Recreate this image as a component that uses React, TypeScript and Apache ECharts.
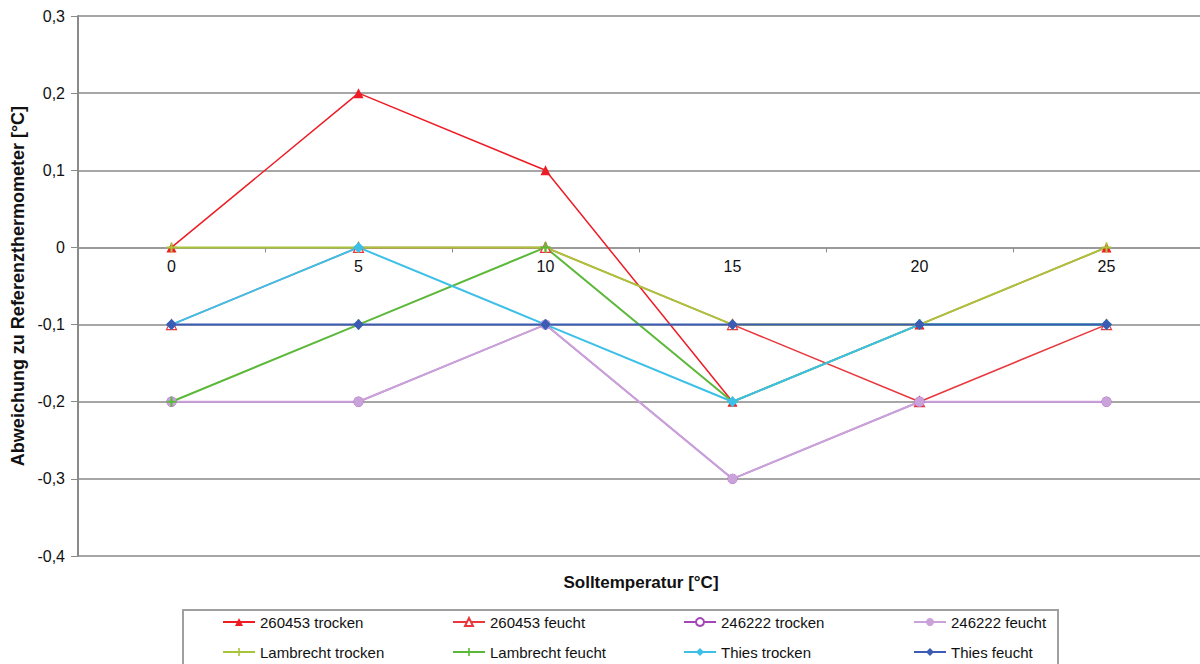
import React, { useEffect, useRef } from "react";
import * as echarts from "echarts";

const categories = ["0", "5", "10", "15", "20", "25"];

const s260453Trocken = [0, 0.2, 0.1, -0.2, -0.1, 0];
const s260453Feucht = [-0.1, 0, 0, -0.1, -0.2, -0.1];
const s246222Trocken = [-0.2, -0.2, -0.1, -0.3, -0.2, -0.2];
const s246222Feucht = [-0.2, -0.2, -0.1, -0.3, -0.2, -0.2];
const sLambrechtTrocken = [0, 0, 0, -0.1, -0.1, 0];
const sLambrechtFeucht = [-0.2, -0.1, 0, -0.2, -0.1, -0.1];
const sThiesTrocken = [-0.1, 0, -0.1, -0.2, -0.1, -0.1];
const sThiesFeucht = [-0.1, -0.1, -0.1, -0.1, -0.1, -0.1];

const yMin = -0.4;
const yMax = 0.3;

const PLUS = "path://M4,0h2v4h4v2h-4v4h-2v-4h-4v-2h4z";

const seriesDefs = [
  { name: "260453 trocken", data: s260453Trocken, color: "#ee1c25", symbol: "triangle", fill: "#ee1c25", size: 10, width: 1.5 },
  { name: "260453 feucht", data: s260453Feucht, color: "#e8383d", symbol: "triangle", fill: "#ffffff", size: 10, width: 1.5 },
  { name: "246222 trocken", data: s246222Trocken, color: "#a347b8", symbol: "circle", fill: "#ffffff", size: 9, width: 1.5 },
  { name: "246222 feucht", data: s246222Feucht, color: "#c9a2d9", symbol: "circle", fill: "#c9a2d9", size: 10, width: 2 },
  { name: "Lambrecht trocken", data: sLambrechtTrocken, color: "#a9c43a", symbol: PLUS, fill: "#a9c43a", size: 10, width: 2 },
  { name: "Lambrecht feucht", data: sLambrechtFeucht, color: "#5cb83a", symbol: PLUS, fill: "#5cb83a", size: 10, width: 2 },
  { name: "Thies trocken", data: sThiesTrocken, color: "#3cc0e8", symbol: "diamond", fill: "#3cc0e8", size: 11, width: 2 },
  { name: "Thies feucht", data: sThiesFeucht, color: "#3c5cb4", symbol: "diamond", fill: "#3c5cb4", size: 11, width: 2 },
];

const legendColumns = [
  { left: 222, names: ["260453 trocken", "Lambrecht trocken"] },
  { left: 452, names: ["260453 feucht", "Lambrecht feucht"] },
  { left: 683, names: ["246222 trocken", "Thies trocken"] },
  { left: 913, names: ["246222 feucht", "Thies feucht"] },
];

const FONT = "'Liberation Sans', Arial, sans-serif";

const GRID_TOP = 16;
const GRID_BOTTOM = 108;
const CHART_H = 664;

export default function App() {
  const ref = useRef<HTMLDivElement>(null);
  useEffect(() => {
    if (!ref.current) return;
    const chart = echarts.init(ref.current, null, { renderer: "svg" });
    const plotH = CHART_H - GRID_TOP - GRID_BOTTOM;
    // move the category axis up to the zero line
    const zeroOffset = -plotH * (0 - yMin) / (yMax - yMin);
    chart.setOption({
      animation: false,
      backgroundColor: "#ffffff",
      grid: { left: 78, right: 0, top: GRID_TOP, bottom: GRID_BOTTOM, containLabel: false },
      xAxis: {
        type: "category",
        data: categories,
        boundaryGap: true,
        offset: zeroOffset,
        axisLine: { onZero: false, lineStyle: { color: "#9a9a9a", width: 2 } },
        axisTick: { show: true, length: 5, lineStyle: { color: "#8a8a8a", width: 1 } },
        axisLabel: { color: "#111", fontSize: 16, fontFamily: FONT, margin: 11 },
        splitLine: { show: false },
      },
      yAxis: {
        type: "value",
        min: yMin,
        max: yMax,
        interval: 0.1,
        name: "Abweichung zu Referenzthermometer [°C]",
        nameLocation: "middle",
        nameGap: 51,
        nameTextStyle: { fontSize: 18, fontWeight: "bold", color: "#111", fontFamily: FONT },
        axisLine: { show: true, lineStyle: { color: "#8a8a8a", width: 2 } },
        axisTick: { show: true, length: 7, lineStyle: { color: "#8a8a8a", width: 1 } },
        axisLabel: {
          color: "#111",
          fontSize: 16,
          fontFamily: FONT,
          margin: 13,
          formatter: (v: number) => {
            const r = Math.round(v * 10) / 10;
            if (r === 0) return "0";
            return r.toFixed(1).replace(".", ",");
          },
        },
        splitLine: { show: true, lineStyle: { color: "#a6a6a6", width: 2 } },
      },
      legend: legendColumns.map((c) => ({
        orient: "vertical",
        left: c.left,
        top: 614,
        itemWidth: 32,
        itemHeight: 10,
        itemGap: 14,
        padding: 0,
        data: c.names,
        textStyle: { fontSize: 15, lineHeight: 16, color: "#111", fontFamily: FONT },
      })),
      graphic: [
        {
          type: "rect",
          shape: { x: 183, y: 610, width: 875, height: 70 },
          style: { fill: "none", stroke: "#a0a0a0", lineWidth: 2 },
          silent: true,
        },
        {
          type: "text",
          x: 641,
          y: 582,
          style: {
            text: "Solltemperatur [°C]",
            fontSize: 17,
            fontWeight: "bold",
            fill: "#111",
            fontFamily: FONT,
            align: "center",
            verticalAlign: "middle",
          },
        },
      ],
      series: seriesDefs.map((s) => ({
        name: s.name,
        type: "line",
        data: s.data,
        symbol: s.symbol,
        symbolSize: s.size,
        showAllSymbol: true,
        lineStyle: { color: s.color, width: s.width },
        itemStyle: { color: s.fill, borderColor: s.color, borderWidth: s.fill === "#ffffff" ? 1.2 : 0 },
        emphasis: { disabled: true },
      })),
    });
    return () => chart.dispose();
  }, []);
  return (
    <div
      ref={ref}
      style={{ position: "absolute", left: 0, top: 0, width: 1200, height: 664, overflow: "hidden" }}
    />
  );
}
